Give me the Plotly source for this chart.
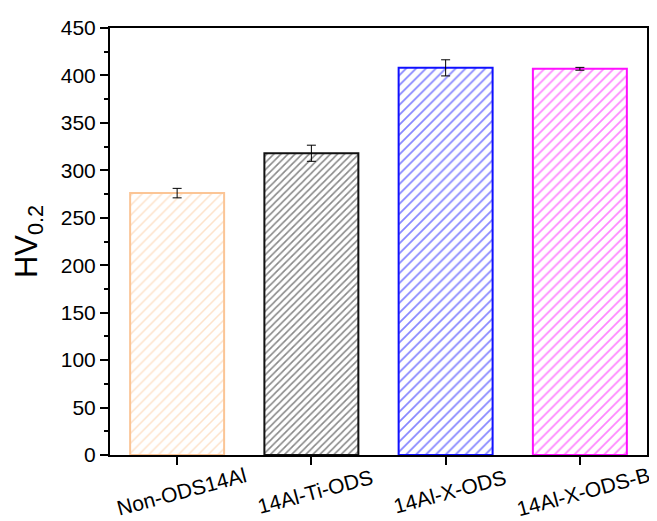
import plotly.graph_objects as go

categories = ["Non-ODS14Al", "14Al-Ti-ODS", "14Al-X-ODS", "14Al-X-ODS-B"]
hv_values = [276, 318, 408, 407]
hv_errors = [5, 8.5, 8.5, 1.5]
bar_colors = ["#FBC596", "#111111", "#1010FF", "#FF10FF"]
hatch_sizes = [7, 5, 7, 7]
hatch_solidity = [0.22, 0.32, 0.25, 0.25]

FONT = "Arial, Liberation Sans, sans-serif"

fig = go.Figure()
fig.add_trace(go.Bar(
    x=list(range(len(categories))),
    y=hv_values,
    width=0.7,
    marker=dict(
        color="white",
        line=dict(color=bar_colors, width=2),
        pattern=dict(shape="/", fgcolor=bar_colors, bgcolor="white",
                     size=hatch_sizes, solidity=hatch_solidity, fillmode="overlay"),
    ),
    error_y=dict(type="data", array=hv_errors, visible=True,
                 color="black", thickness=1, width=4.5),
    showlegend=False,
))

for i, name in enumerate(categories):
    fig.add_annotation(
        x=i + 0.03, xref="x", y=-0.085, yref="paper",
        text=name, showarrow=False, textangle=-15,
        font=dict(family=FONT, size=21, color="black"),
        xanchor="center", yanchor="middle",
    )

fig.update_layout(
    width=649, height=513,
    margin=dict(l=102, r=8, t=12, b=66),
    paper_bgcolor="white", plot_bgcolor="white",
    font=dict(family=FONT, color="black"),
    xaxis=dict(
        range=[-0.5, 3.5], tickmode="array",
        tickvals=list(range(len(categories))), showticklabels=False,
        ticks="outside", ticklen=8, tickwidth=2, tickcolor="black",
        showline=True, linewidth=2, linecolor="black", mirror=True,
        showgrid=False, zeroline=False,
    ),
    yaxis=dict(
        range=[0, 450], dtick=50, tick0=0,
        ticks="outside", ticklen=8, tickwidth=2, tickcolor="black",
        minor=dict(dtick=25, ticks="outside", ticklen=4, tickwidth=2, tickcolor="black"),
        showline=True, linewidth=2, linecolor="black", mirror=True,
        showgrid=False, zeroline=False,
        tickfont=dict(family=FONT, size=21, color="black"),
        title=dict(text="HV<sub>0.2</sub>", font=dict(family=FONT, size=31, color="black"),
                   standoff=14),
    ),
)

fig.write_html("out.html")
